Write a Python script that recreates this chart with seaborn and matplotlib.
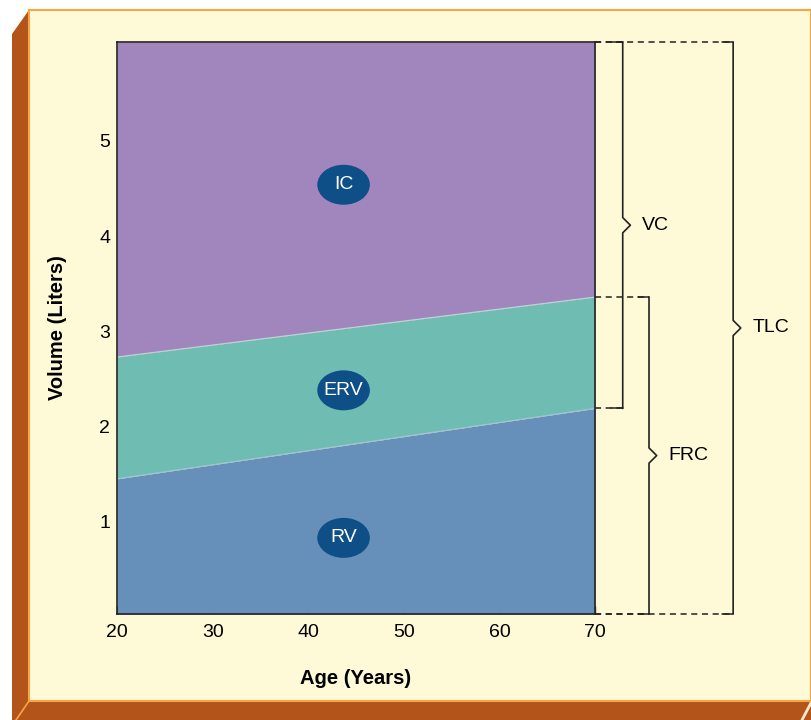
import matplotlib
matplotlib.use("Agg")
import matplotlib.pyplot as plt
from matplotlib.patches import Ellipse, Polygon, Rectangle
import pandas as pd
import seaborn as sns

# lung volumes vs age (liters)
age = [20, 70]
rv_top = [1.45, 2.19]
frc_top = [2.73, 3.36]
y_bottom, y_top = 0.03, 6.04

regions = ["IC", "ERV", "RV"]
region_colors = ["#a186be", "#6fbcb3", "#6690b9"]
label_x = 43.7
label_y = [4.54, 2.38, 0.83]

x_ticks = [20, 30, 40, 50, 60, 70]
y_ticks = [1, 2, 3, 4, 5]

# capacity brackets: name, x position (data), low, high
brackets = [
    ("VC", 72.9, rv_top[-1], y_top),
    ("FRC", 75.65, y_bottom, frc_top[-1]),
    ("TLC", 84.45, y_bottom, y_top),
]

df = pd.DataFrame({"age": age, "rv": rv_top, "frc": frc_top})

sns.set_theme(style="white")
plt.rcParams["font.family"] = ["Liberation Sans", "DejaVu Sans"]
plt.rcParams["text.color"] = "black"
plt.rcParams["axes.labelcolor"] = "black"

fig = plt.figure(figsize=(8.11, 7.2), dpi=100)
fig.patch.set_facecolor("white")

W, H = 811, 720
def fx(p):
    return p / W
def fy(p):
    return 1 - p / H

# 3d panel background
dark = "#b3541a"
light = "#f7a646"
cream = "#fef9d7"
fig.patches.append(Polygon(
    [(fx(12), fy(34)), (fx(29), fy(10)), (fx(29), fy(701)), (fx(811), fy(701)),
     (fx(811), fy(720)), (fx(12), fy(720))],
    closed=True, transform=fig.transFigure, facecolor=dark, edgecolor="none", zorder=-2))
fig.patches.append(Rectangle((fx(29), fy(701)), fx(811) - fx(29), fy(10) - fy(701),
                             transform=fig.transFigure, facecolor=cream,
                             edgecolor=light, linewidth=1.5, zorder=-1))
fig.lines.append(plt.Line2D([fx(29), fx(16)], [fy(701), fy(720)], transform=fig.transFigure,
                            color=light, lw=1.2, zorder=-1))
fig.lines.append(plt.Line2D([fx(812), fx(802)], [fy(701), fy(720)], transform=fig.transFigure,
                            color="#fde7c4", lw=2, zorder=-1))

ax = fig.add_axes([117 / W, (720 - 614) / H, (595 - 117) / W, (614 - 42) / H])
ax.set_zorder(1)
ax.set_facecolor("none")

ax.fill_between(df["age"], y_bottom, df["rv"], color=region_colors[2], lw=0)
ax.fill_between(df["age"], df["rv"], df["frc"], color=region_colors[1], lw=0)
ax.fill_between(df["age"], df["frc"], y_top, color=region_colors[0], lw=0)
sns.lineplot(data=df, x="age", y="rv", ax=ax, color="#a9c2d6", lw=0.8)
sns.lineplot(data=df, x="age", y="frc", ax=ax, color="#b9d9d6", lw=0.8)

ax.set_xlim(20, 70)
ax.set_ylim(y_bottom, y_top)
ax.set_xticks(x_ticks)
ax.set_yticks(y_ticks)
ax.tick_params(direction="in", length=6, width=1, color="#222222",
               labelcolor="black", labelsize=14, pad=5, bottom=True, left=True)
ax.tick_params(axis="x", pad=7)
for s in ax.spines.values():
    s.set_color("#222222")
    s.set_linewidth(1.2)

ax.set_xlabel("Age (Years)", fontsize=14.5, fontweight="bold", labelpad=20)
ax.set_ylabel("Volume (Liters)", fontsize=14.5, fontweight="bold", labelpad=23)

for name, ly in zip(regions, label_y):
    ax.add_patch(Ellipse((label_x, ly), 5.5, 0.42, facecolor="#0d4f86",
                         edgecolor="none", zorder=3))
    ax.text(label_x, ly, name, color="white", fontsize=14, ha="center",
            va="center", zorder=4)

# brackets with dashed leaders
notch_dx, notch_dy = 0.8, 0.08
for name, bx, lo, hi in brackets:
    mid = (lo + hi) / 2
    for yy in (lo, hi):
        ax.plot([70, bx], [yy, yy], color="#222222", lw=1.1,
                linestyle=(0, (4, 3)), clip_on=False)
        ax.plot([bx - 1.2, bx], [yy, yy], color="#222222", lw=1.1, clip_on=False)
    ax.plot([bx, bx, bx + notch_dx, bx, bx],
            [lo, mid - notch_dy, mid, mid + notch_dy, hi],
            color="#222222", lw=1.2, clip_on=False)
    ax.text(bx + 2.0, mid, name, fontsize=14, ha="left", va="center",
            clip_on=False)

fig.savefig("out.png", dpi=100)
